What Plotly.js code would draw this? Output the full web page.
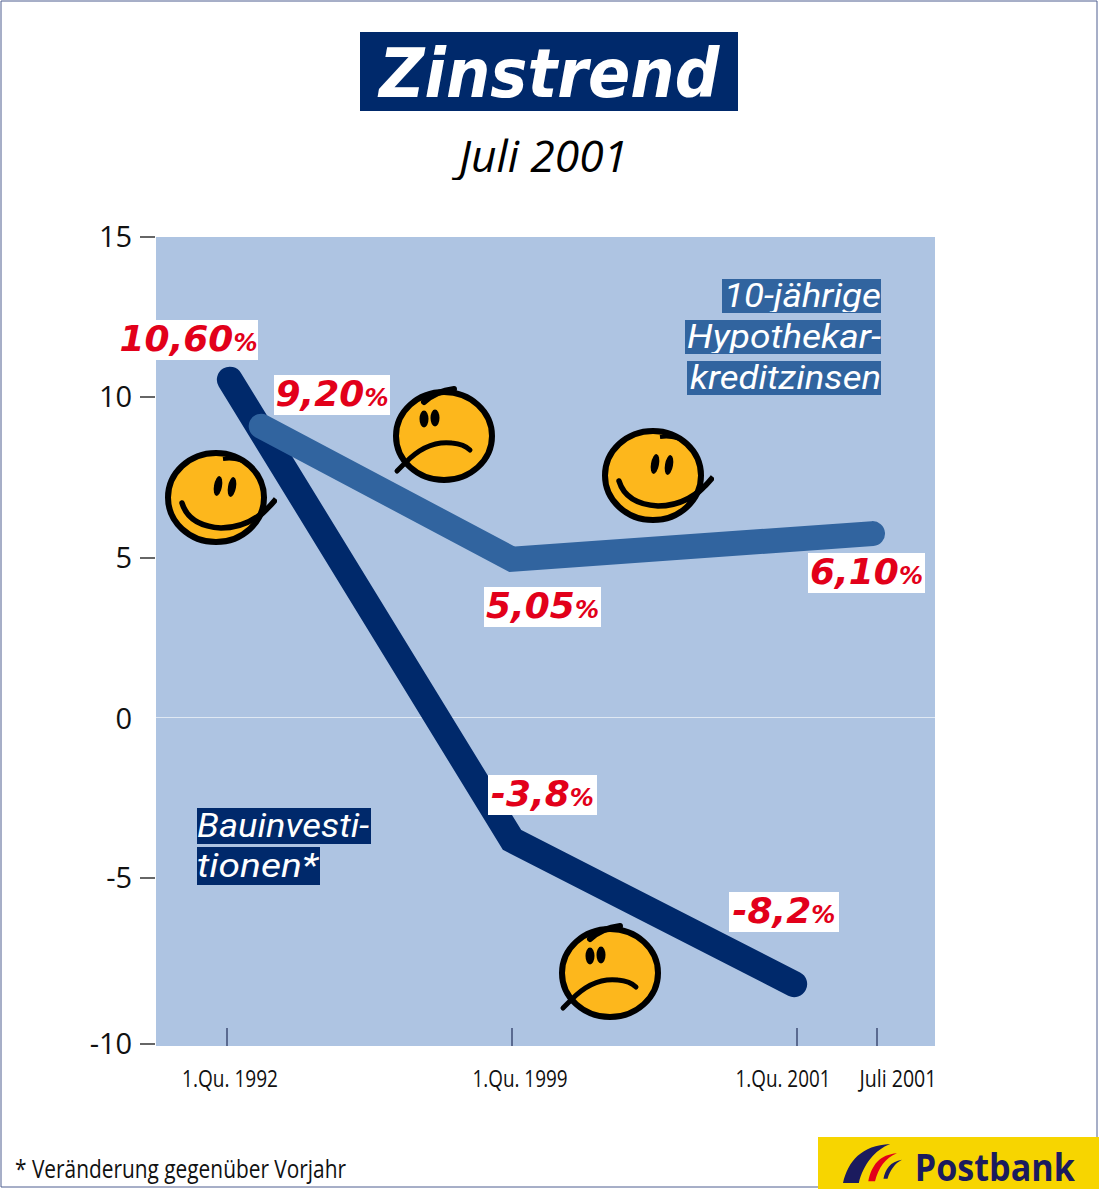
<!DOCTYPE html>
<html><head><meta charset="utf-8">
<script src="https://cdn.plot.ly/plotly-3.0.1.min.js"></script>
<style>html,body{margin:0;padding:0;background:#fff}.js-line{stroke-linecap:round}</style>
</head><body><div id="chart" style="width:1100px;height:1200px"></div>
<script>
const W=1100,H=1200,L=156,R=935,T=237,B=1046;
const bauX=[0.01,1,1.99];
const bauY=[10.55,-3.8,-8.3];
const zinsX=[0.12,1,2.265];
const zinsY=[9.1,4.95,5.75];
const tickPositions=[0,1,2,2.28];
const tickLabels=['1.Qu. 1992','1.Qu. 1999','1.Qu. 2001','Juli 2001'];
const tickLabelCentres=[230,519.5,782.5,896.5];
const yTickPositions=[15,10,5,-5,-10.17];
const yTickLabels=['15','10','5','-5','-10'];
const valueLabels=[['10,60',119,320,258,360],['9,20',274,375,390,415],['5,05',484,587,601,627],['6,10',808,553,925,593],['-3,8',488,775,597,815],['-8,2',729,892,839,932]];
const seriesLabels=[['10-jährige',722,279,881,313,'#31649f','right'],['Hypothekar-',685,320,881,354,'#31649f','right'],['kreditzinsen',687,361,881,395,'#31649f','right'],['Bauinvesti-',197,808,371,844,'#00296b','left'],['tionen*',197,847,320,885,'#00296b','left']];
const textWidths={'Zinstrend':340,'Juli 2001|44':169,'Juli 2001|24':77,'Postbank':160,'* Veränderung gegenüber Vorjahr':331,
 '1.Qu. 1992':96,'1.Qu. 1999':95,'1.Qu. 2001':95,'10-jährige':157,'Hypothekar-':194,'kreditzinsen':191,'Bauinvesti-':172,'tionen*':121};

const px=x=>(x-L)/(R-L), py=y=>(B-y)/(B-T);
const FF='"Open Sans","Noto Sans",sans-serif', HF='"DejaVu Sans",sans-serif', SF='Roboto,"Open Sans",sans-serif';
const none='rgba(0,0,0,0)';
function box(x0,y0,x1,y1,text,font,align){return {xref:'paper',yref:'paper',x:px(x0),y:py(y0),xanchor:'left',yanchor:'top',width:x1-x0,height:y1-y0,text,font,bgcolor:none,align:align||'center',valign:'middle',showarrow:false,borderpad:0,borderwidth:0};}
const svg=s=>'data:image/svg+xml;base64,'+btoa(s);
const happy=svg(`<svg xmlns="http://www.w3.org/2000/svg" viewBox="0 0 112 95" width="448" height="380"><ellipse cx="51" cy="47.5" rx="48" ry="44.5" fill="#fdb71c" stroke="#000" stroke-width="6"/><path d="M58 9 Q74 7 85 15" fill="none" stroke="#000" stroke-width="4"/><ellipse cx="53" cy="36" rx="4" ry="10" transform="rotate(10 53 36)"/><ellipse cx="67" cy="37" rx="4" ry="10" transform="rotate(10 67 37)"/><path d="M17 53 Q24 76 56 78 Q88 78 111 49 Q100 62 92 68" fill="none" stroke="#000" stroke-width="5.5" stroke-linecap="round"/></svg>`);
const sad=svg(`<svg xmlns="http://www.w3.org/2000/svg" viewBox="0 0 104 100" width="416" height="400"><ellipse cx="52" cy="51" rx="48" ry="44" fill="#fdb71c" stroke="#000" stroke-width="6"/><path d="M32 17 Q44 6 62 4" fill="none" stroke="#000" stroke-width="6" stroke-linecap="round"/><ellipse cx="32" cy="34" rx="4.5" ry="8.5"/><ellipse cx="43" cy="33" rx="4.5" ry="8.5"/><path d="M5 86 L13 78 Q35 55 60 58 Q72 59 78 65" fill="none" stroke="#000" stroke-width="5" stroke-linecap="round"/></svg>`);
const swoosh=svg(`<svg xmlns="http://www.w3.org/2000/svg" viewBox="130 65 175 120" width="350" height="240"><path d="M130 185C145 120 185 72 270 68C225 85 190 130 177 185Z" fill="#1b1b5e"/><path d="M205 180C215 130 240 100 290 96C255 110 235 140 225 180Z" fill="#e2001a"/><path d="M250 172C255 145 270 120 305 115C285 125 270 145 262 172Z" fill="#1b1b5e"/></svg>`);
function img(source,x0,y0,x1,y1){return {source,xref:'paper',yref:'paper',x:px(x0),y:py(y0),sizex:(x1-x0)/(R-L),sizey:(y1-y0)/(B-T),xanchor:'left',yanchor:'top',sizing:'stretch',layer:'above'};}
function rect(x0,y0,x1,y1,fill,line,layer){return {type:'rect',xref:'paper',yref:'paper',x0:px(x0),x1:px(x1),y0:py(y0),y1:py(y1),fillcolor:fill,line:line||{width:0},layer:layer||'below'};}

const annotations=[
 box(360,34,738,113,'<b><i>Zinstrend</i></b>',{family:HF,size:68,color:'#fff'}),
 box(440,130,640,180,'<i>Juli 2001</i>',{family:FF,size:44,color:'#000'}),
 box(15,1152,360,1184,'* Veränderung gegenüber Vorjahr',{family:FF,size:25,color:'#111'},'left'),
 box(895,1148,1095,1184,'<b>Postbank</b>',{family:FF,size:38,color:'#1b1b5e'}),
 box(60,699,132,735,'0',{family:FF,size:29,color:'#111'},'right')
];
valueLabels.forEach(v=>annotations.push(box(v[1],v[2]-2,v[3],v[4]-2,`<b><i>${v[0]}<span style="font-size:24px">%</span></i></b>`,{family:HF,size:36,color:'#e2001a'})));
seriesLabels.forEach(s=>annotations.push(box(s[1],s[2]-1,s[3],s[4]-1,`<i>${s[0]}</i>`,{family:SF,size:34,color:'#fff'},s[6])));
tickLabels.forEach((t,i)=>annotations.push(box(tickLabelCentres[i]-60,1062,tickLabelCentres[i]+60,1092,t,{family:FF,size:24,color:'#111'})));

const data=[
 {x:bauX,y:bauY,mode:'lines',line:{color:'#00296b',width:26},hoverinfo:'skip',name:'Bauinvestitionen*'},
 {x:zinsX,y:zinsY,mode:'lines',line:{color:'#31649f',width:25},hoverinfo:'skip',name:'10-jährige Hypothekarkreditzinsen'}
];
const shapes=[rect(1,1,1097,1187,none,{color:'#4f5f90',width:1}),rect(818,1137,1099,1189,'#f7d500'),rect(360,32,738,111,'#00296b')];
seriesLabels.forEach(s=>shapes.push(rect(s[1],s[2],s[3],s[4],s[5],null,'above')));
valueLabels.forEach(v=>shapes.push(rect(v[1],v[2],v[3],v[4],'#fff',null,'above')));
const layout={width:W,height:H,margin:{l:L,r:W-R,t:T,b:H-B,pad:0},paper_bgcolor:'#fff',plot_bgcolor:'#aec4e2',showlegend:false,hovermode:false,
 xaxis:{range:[(L-227)/285,(R-227)/285],tickmode:'array',tickvals:tickPositions,ticktext:['','','',''],ticks:'inside',ticklen:18,tickwidth:1.5,tickcolor:'#5a6a90',showgrid:false,zeroline:false,showline:false},
 yaxis:{range:[-10.23,15],tickmode:'array',tickvals:yTickPositions,ticktext:yTickLabels,ticks:'outside',ticklen:15,tickwidth:1.5,tickcolor:'#666',ticklabelstandoff:2,tickfont:{family:FF,size:29,color:'#111'},showgrid:false,zeroline:true,zerolinecolor:'#dfe8f3',zerolinewidth:1,showline:false},
 annotations,shapes,
 images:[img(happy,165,450,277,545),img(sad,392,385,496,485),img(happy,602,428,714,523),img(sad,558,922,662,1022),img(swoosh,843,1143,902,1183)]
};
Plotly.newPlot('chart',data,layout,{displayModeBar:false,responsive:false}).then(()=>{
 document.querySelectorAll('.annotation-text').forEach(t=>{
  const key=t.textContent;
  const w=textWidths[key]||textWidths[key+'|'+parseFloat(t.style.fontSize)];
  if(w){t.setAttribute('textLength',w);t.setAttribute('lengthAdjust','spacingAndGlyphs');}
 });
});
</script></body></html>
